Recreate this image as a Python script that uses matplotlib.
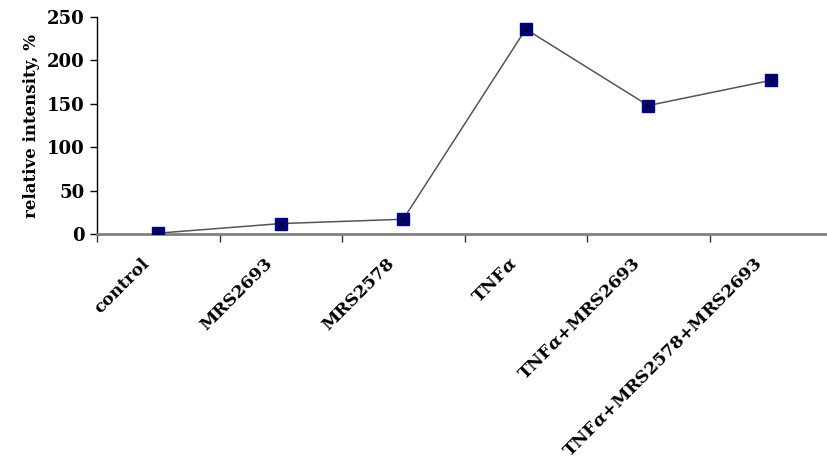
import matplotlib
matplotlib.use("Agg")
import matplotlib.pyplot as plt
from matplotlib.transforms import ScaledTranslation

# data
groups = ["control", "MRS2693", "MRS2578", "TNF$\\alpha$", "TNF$\\alpha$+MRS2693",
          "TNF$\\alpha$+MRS2578+MRS2693"]
intensity = [1, 12, 17, 236, 148, 177]
y_ticks = [0, 50, 100, 150, 200, 250]

plt.rcParams['font.family'] = ['DejaVu Serif']
plt.rcParams['font.weight'] = 'bold'
plt.rcParams['mathtext.fontset'] = 'dejavuserif'

fig = plt.figure(figsize=(8.27, 4.61), dpi=100)
ax = fig.add_axes([97 / 827, 1 - 234 / 461, (832 - 97) / 827, 217 / 461])

x = list(range(len(groups)))
ax.plot(x, intensity, color='#555555', lw=1.1, zorder=2)
ax.plot(x, intensity, ls='none', marker='s', ms=9, mfc='#000080', mec='#000080', zorder=3)
ax.plot(x, intensity, ls='none', marker='x', ms=4.5, mew=0.8, color='black', zorder=4)

ax.set_xlim(-0.5, len(groups) - 0.5)
ax.set_ylim(0, 250)
ax.set_yticks(y_ticks)
ax.tick_params(axis='y', labelsize=13, length=5, width=1, pad=4, color='black')

# category boundary ticks, labels at centres
ax.set_xticks(x)
ax.set_xticklabels(groups, rotation=45, ha='right', va='top', rotation_mode='anchor',
                   fontsize=12.5)
ax.set_xticks([i - 0.5 for i in range(len(groups) + 1)], minor=True)
ax.tick_params(axis='x', which='major', length=0, pad=15)
ax.tick_params(axis='x', which='minor', length=6, width=1, color='#333333')
for lab in ax.get_xticklabels():
    lab.set_transform(lab.get_transform() + ScaledTranslation(-0.17, 0, fig.dpi_scale_trans))

for s in ['top', 'right']:
    ax.spines[s].set_visible(False)
ax.spines['bottom'].set_color('#808080')
ax.spines['bottom'].set_linewidth(2)
ax.spines['left'].set_color('black')
ax.spines['left'].set_linewidth(1)

ax.set_ylabel("relative intensity, %", fontsize=12, fontweight='bold', labelpad=5)

fig.savefig("out.png", dpi=100)
